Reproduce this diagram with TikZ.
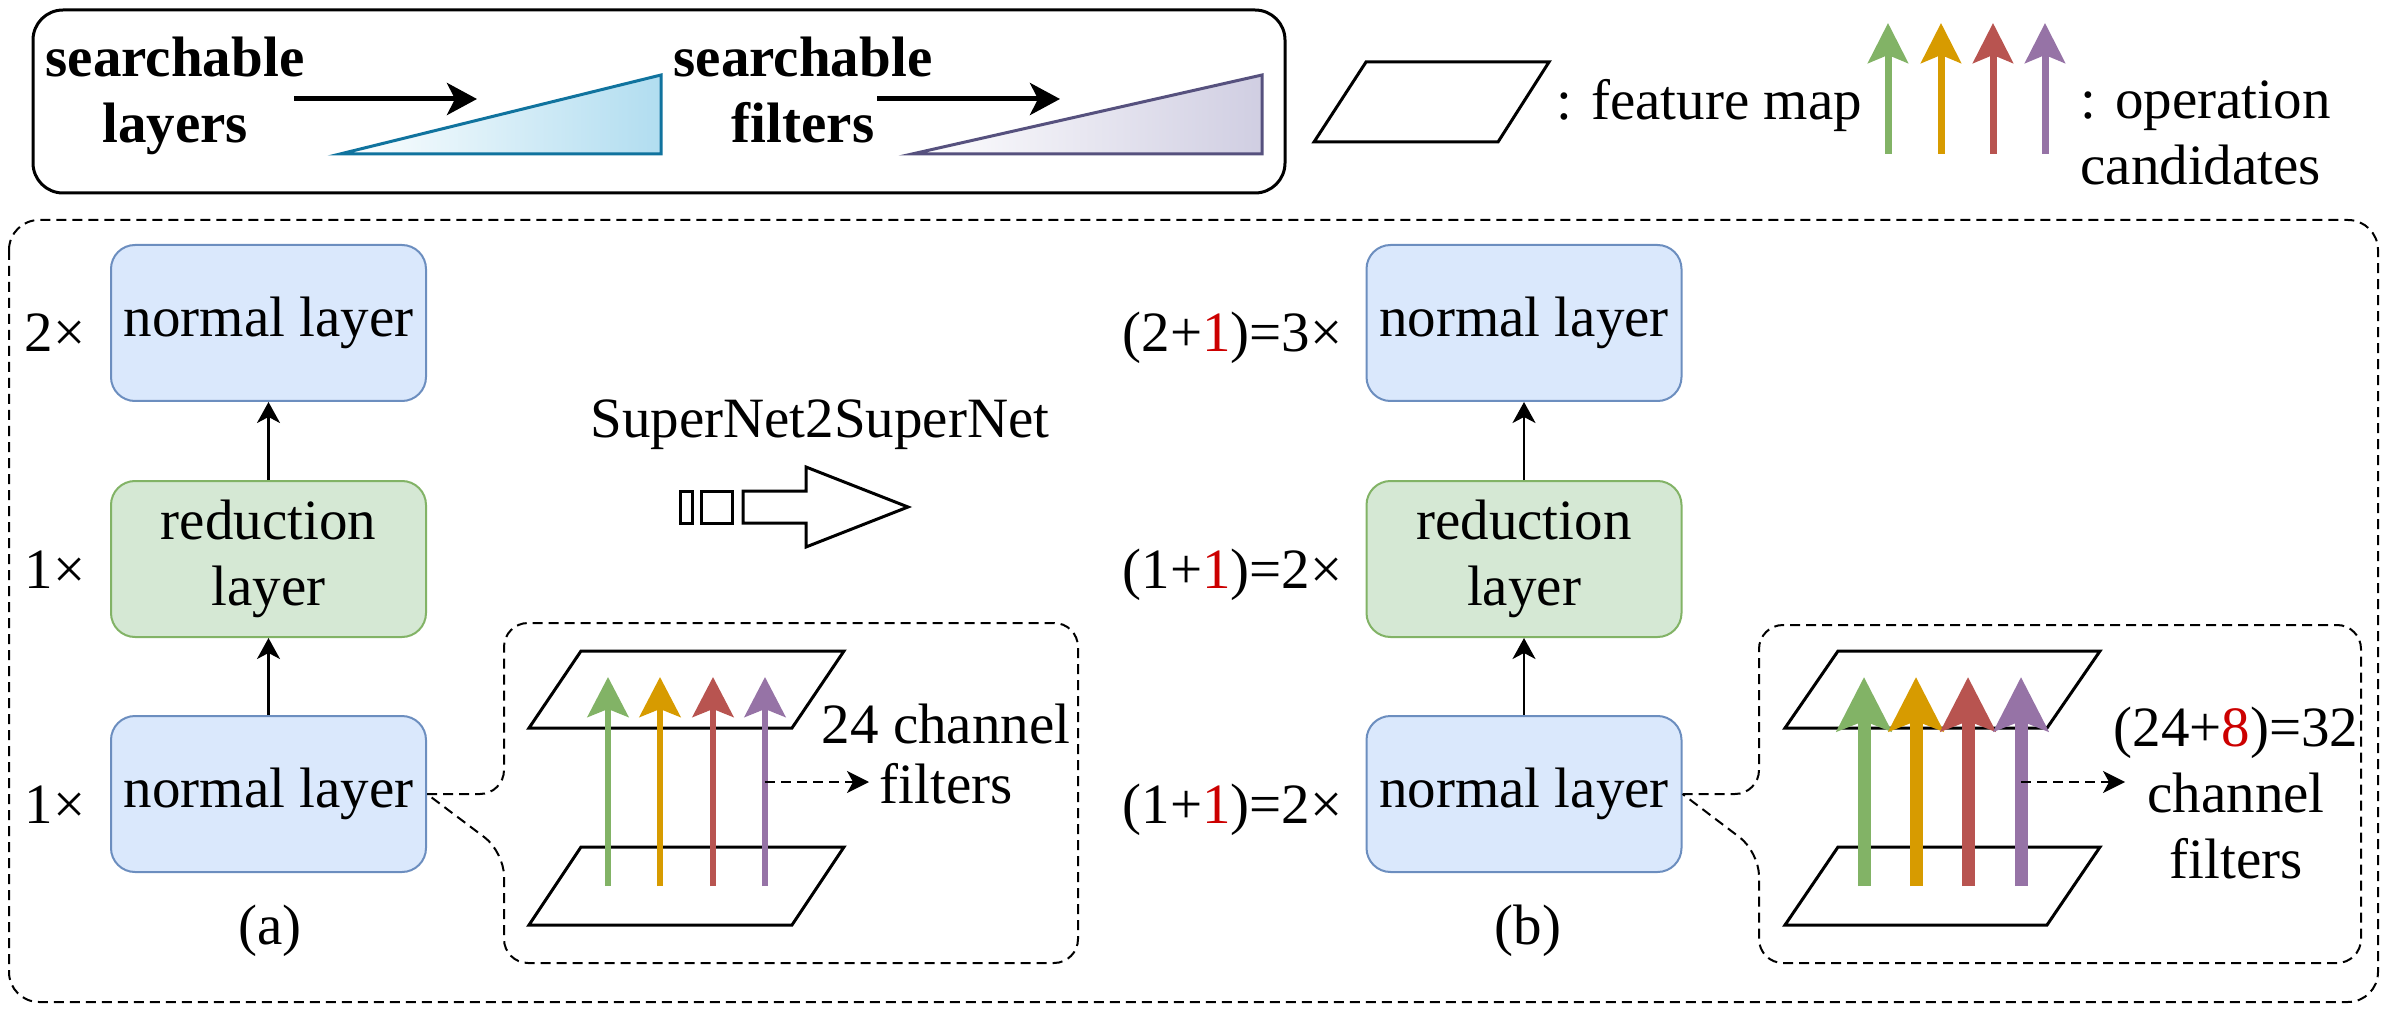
\documentclass[tikz,border=0pt]{standalone}
\usepackage{fontspec}
\setmainfont{Liberation Serif}
\usetikzlibrary{arrows.meta}
\definecolor{nfill}{HTML}{DAE8FC}
\definecolor{ndraw}{HTML}{6C8EBF}
\definecolor{rfill}{HTML}{D5E8D4}
\definecolor{rdraw}{HTML}{82B366}
\definecolor{opg}{HTML}{82B366}
\definecolor{opo}{HTML}{D79B00}
\definecolor{opr}{HTML}{B85450}
\definecolor{opp}{HTML}{9673A6}
\definecolor{numred}{HTML}{CC0000}
\definecolor{triblue}{HTML}{10739E}
\definecolor{triblueF}{HTML}{B1DDF0}
\definecolor{tripur}{HTML}{56517E}
\definecolor{tripurF}{HTML}{D0CEE2}
\newcommand{\myfs}{\fontsize{28.5}{33}\selectfont}
\begin{document}
\begin{tikzpicture}[x=0.5pt,y=-0.5pt,
  every node/.style={inner sep=0pt, font=\myfs},
  layerbox/.style={draw=ndraw, fill=nfill, line width=1pt, rounded corners=12pt,
    minimum width=157.5pt, minimum height=78pt, align=center},
  redbox/.style={layerbox, draw=rdraw, fill=rfill},
  layarrow/.style={line width=1.2pt, -{Stealth[length=10.5pt,width=11.5pt,inset=3pt]}},
  legarrow/.style={line width=2.5pt, -{Stealth[length=15pt,width=16pt,inset=4pt]}},
  legop/.style={line width=3.5pt, -{Stealth[length=20pt,width=20pt,inset=4pt]}},
  thinop/.style={line width=3pt, -{Stealth[length=20pt,width=20.5pt,inset=4pt]}},
  thickop/.style={line width=6.5pt, -{Stealth[length=27pt,width=27pt,inset=5pt]}},
  dashline/.style={line width=1pt, dash pattern=on 5pt off 3pt},
  dasharrow/.style={dashline, -{Stealth[length=11pt,width=11pt,inset=3pt]}},
  fmap/.style={line width=1.5pt}
]
\useasboundingbox (0,0) rectangle (2392,1010);

% ---------------- legend ----------------
\draw[line width=1.5pt, rounded corners=15pt] (33,10) rectangle (1285,193);
\node[font=\myfs\bfseries, align=center] (sl) at (175,96) {searchable\\layers};
\coordinate (a1s) at (294,99); \coordinate (a1e) at (477,99);
\draw[legarrow] (a1s) -- (a1e);
\draw[draw=triblue, line width=1.5pt, left color=white, right color=triblueF]
  (340,154) -- (661,154) -- (661,75) -- cycle;
\node[font=\myfs\bfseries, align=center] (sf) at (803,90) {searchable\\filters};
\coordinate (a2s) at (877,99); \coordinate (a2e) at (1060,99);
\draw[legarrow] (a2s) -- (a2e);
\draw[draw=tripur, line width=1.5pt, left color=white, right color=tripurF]
  (912,154) -- (1262,154) -- (1262,75) -- cycle;

\draw[fmap] (1314,142) -- (1366,62) -- (1549,62) -- (1498,142) -- cycle;
\node[anchor=base west] (fm) at (1556,120) {: feature map};
\foreach \x/\c in {1888/opg,1941/opo,1993/opr,2045/opp}
  \draw[legop, \c] (\x,154) -- (\x,23);
\node[anchor=west, align=left] (oc) at (2080,133) {: operation\\candidates};

% ---------------- main frame ----------------
\draw[dashline, rounded corners=15pt] (9,220) rectangle (2378,1002);

% ---------------- (a) ----------------
\node[layerbox] (a3) at (268.5,323) {normal layer};
\node[redbox] (a2) at (268.5,559) {reduction\\layer};
\node[layerbox] (a1) at (268.5,794) {normal layer};
\draw[layarrow] (a1) -- (a2);
\draw[layarrow] (a2) -- (a3);
\node[anchor=base east] (la3) at (86,352) {2×};
\node[anchor=base east] (la2) at (86,588) {1×};
\node[anchor=base east] (la1) at (86,823) {1×};
\node (capa) at (270,931) {(a)};

\draw[dashline, rounded corners=12pt] (a1.east) -- (504,794) -- (504,623) -- (1078,623)
  -- (1078,963) -- (504,963) -- (504,852) -- (a1.east);
\draw[fmap] (529,728) -- (581,651) -- (844,651) -- (792,728) -- cycle;
\draw[fmap] (529,925) -- (581,847) -- (844,847) -- (792,925) -- cycle;
\foreach \x/\c in {608/opg,660/opo,713/opr,765/opp}
  \draw[thinop, \c] (\x,886) -- (\x,677);
\coordinate (d1s) at (765,782); \coordinate (d1e) at (869,782);
\draw[dasharrow] (d1s) -- (d1e);
\node[align=center, font=\fontsize{28.5}{30}\selectfont] (ch1) at (946,754) {24 channel\\filters};

% ---------------- transition ----------------
\node (s2s) at (820,425) {SuperNet2SuperNet};
\draw[line width=1.5pt] (680,491) rectangle (692,523);
\draw[line width=1.5pt] (701,491) rectangle (732,523);
\draw[line width=1.5pt] (743,491) -- (806,491) -- (806,467) -- (908,507) -- (806,547)
  -- (806,523) -- (743,523) -- cycle;

% ---------------- (b) ----------------
\node[layerbox] (b3) at (1524,323) {normal layer};
\node[redbox] (b2) at (1524,559) {reduction\\layer};
\node[layerbox] (b1) at (1524,794) {normal layer};
\draw[layarrow] (b1) -- (b2);
\draw[layarrow] (b2) -- (b3);
\node[anchor=base east] (lb3) at (1343,352) {(2+\textcolor{numred}{1})=3×};
\node[anchor=base east] (lb2) at (1343,588) {(1+\textcolor{numred}{1})=2×};
\node[anchor=base east] (lb1) at (1343,823) {(1+\textcolor{numred}{1})=2×};
\node (capb) at (1528,931) {(b)};

\draw[dashline, rounded corners=12pt] (b1.east) -- (1759,794) -- (1759,625) -- (2361,625)
  -- (2361,963) -- (1759,963) -- (1759,852) -- (b1.east);
\draw[fmap] (1785,728) -- (1838,651) -- (2100,651) -- (2047,728) -- cycle;
\draw[fmap] (1785,925) -- (1838,847) -- (2100,847) -- (2047,925) -- cycle;
\foreach \x/\c in {1864/opg,1916/opo,1968/opr,2021/opp}
  \draw[thickop, \c] (\x,886) -- (\x,677);
\coordinate (d2s) at (2021,782); \coordinate (d2e) at (2125,782);
\draw[dasharrow] (d2s) -- (d2e);
\node[align=center] (ch2) at (2236,793) {(24+\textcolor{numred}{8})=32\\channel\\filters};
\end{tikzpicture}
\end{document}
